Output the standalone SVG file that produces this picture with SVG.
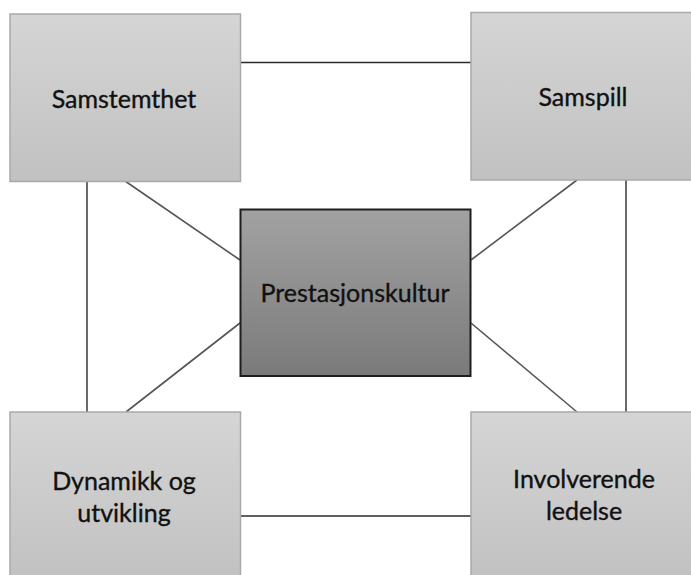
<svg xmlns="http://www.w3.org/2000/svg" width="691" height="575" viewBox="0 0 691 575">
<defs>
<linearGradient id="gl" x1="0" y1="0" x2="0" y2="1">
<stop offset="0" stop-color="#d5d5d5"/>
<stop offset="1" stop-color="#c1c1c1"/>
</linearGradient>
<linearGradient id="gd" x1="0" y1="0" x2="0" y2="1">
<stop offset="0" stop-color="#a2a2a2"/>
<stop offset="1" stop-color="#7a7a7a"/>
</linearGradient>
<style>
.lb{fill:url(#gl);stroke:#a9a9a9;stroke-width:1.5}
.db{fill:url(#gd);stroke:#1e1e1e;stroke-width:2}
.t{font-family:Lato,"Open Sans","Liberation Sans",sans-serif;font-size:25px;fill:#111;stroke:#111;stroke-width:0.35;text-anchor:middle}
.c{stroke:#2a2a2a;stroke-width:1.4;fill:none}
.d{stroke:#555;stroke-width:1.6;fill:none}
</style>
</defs>
<rect width="691" height="575" fill="#fff"/>
<g id="connectors">
<line class="c" x1="241" y1="62.5" x2="471" y2="62.5"/>
<line class="c" x1="241" y1="516" x2="471" y2="516"/>
<line class="c" x1="87" y1="181" x2="87" y2="412"/>
<line class="c" x1="626" y1="180" x2="626" y2="412"/>
<line class="d" x1="125" y1="181" x2="240" y2="260"/>
<line class="d" x1="240" y1="323" x2="126" y2="412"/>
<line class="d" x1="577" y1="180" x2="471" y2="260"/>
<line class="d" x1="471" y1="323" x2="577" y2="412"/>
</g>
<g id="samstemthet">
<rect class="lb" x="10" y="14" width="230.5" height="167.5"/>
<text class="t" x="124" y="108">Samstemthet</text>
</g>
<g id="samspill">
<rect class="lb" x="471" y="12.5" width="230" height="167.5"/>
<text class="t" x="583" y="106">Samspill</text>
</g>
<g id="prestasjonskultur">
<rect class="db" x="240.5" y="209.5" width="230" height="166.5"/>
<text class="t" x="355" y="302">Prestasjonskultur</text>
</g>
<g id="dynamikk">
<rect class="lb" x="10" y="412" width="230.5" height="170"/>
<text class="t" x="124" y="490">Dynamikk og</text>
<text class="t" x="124" y="521.5">utvikling</text>
</g>
<g id="involverende">
<rect class="lb" x="471" y="412" width="230" height="170"/>
<text class="t" x="584" y="488">Involverende</text>
<text class="t" x="584" y="519.5">ledelse</text>
</g>
</svg>
